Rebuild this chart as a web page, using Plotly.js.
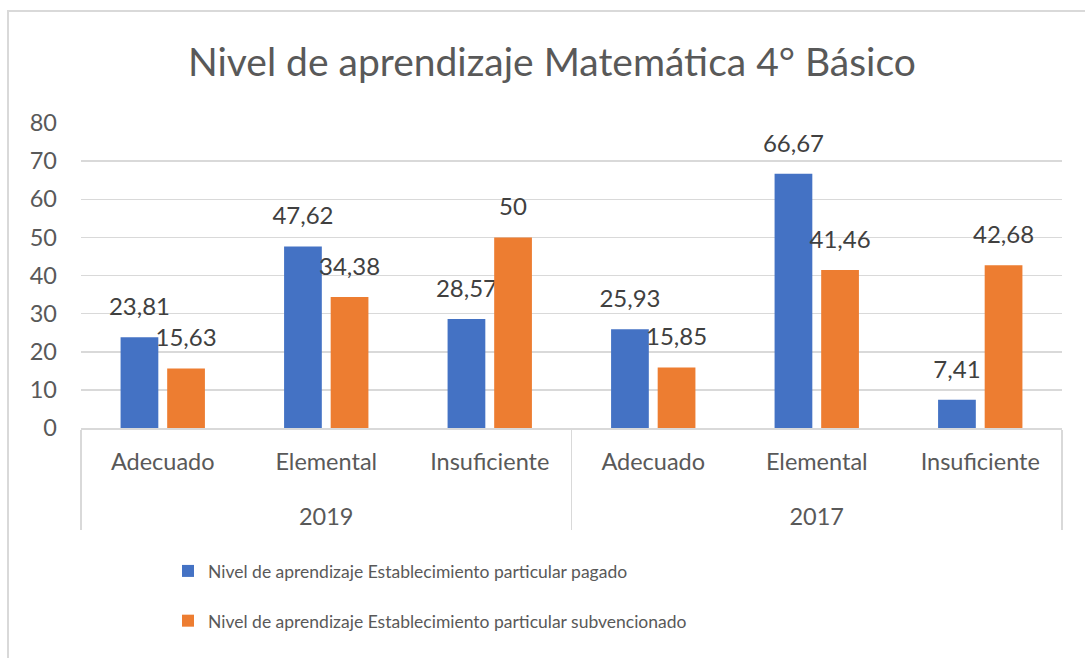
<!DOCTYPE html>
<html>
<head>
<meta charset="utf-8">
<script src="https://cdn.plot.ly/plotly-3.0.1.min.js"></script>
<style>
html,body{margin:0;padding:0;background:#fff;}
#chart{width:1085px;height:658px;}
</style>
</head>
<body>
<div id="chart"></div>
<script>
const years = ["2019","2019","2019","2017","2017","2017"];
const levels = ["Adecuado","Elemental","Insuficiente","Adecuado","Elemental","Insuficiente"];
const pagado = [23.81, 47.62, 28.57, 25.93, 66.67, 7.41];
const subvencionado = [15.63, 34.38, 50, 15.85, 41.46, 42.68];
const seriesNames = ["Nivel de aprendizaje Establecimiento particular pagado",
                     "Nivel de aprendizaje Establecimiento particular subvencionado"];
const yTicks = [0,10,20,30,40,50,60,70,80];

const fmt = v => "<span style='font-size:24px'>" + String(v).replace('.', ',') +
                 "</span><br><span style='font-size:4px'> </span>";
const FONT = "Lato, 'Open Sans', sans-serif";
const lbl = s => "<span style='font-size:23.5px'>" + s + "</span>";
const xCats = [years.map(y => "<br>" + lbl(y)), levels.map(lbl)];

const traces = [
  {type:'bar', name:seriesNames[0], x:xCats, y:pagado,
   marker:{color:'#4472C4'}, text:pagado.map(fmt), textposition:'outside', constraintext:'none',
   textfont:{color:'#404040', size:14, family:FONT}, cliponaxis:false,
   legendgroup:'a', hoverinfo:'y'},
  {type:'bar', name:seriesNames[1], x:xCats, y:subvencionado,
   marker:{color:'#ED7D31'}, text:subvencionado.map(fmt), textposition:'outside', constraintext:'none',
   textfont:{color:'#404040', size:14, family:FONT}, cliponaxis:false,
   legendgroup:'b', hoverinfo:'y'}
];

const layout = {
  width:1085, height:658,
  margin:{l:81, r:23, t:123, b:230},
  paper_bgcolor:'#fff', plot_bgcolor:'#fff',
  font:{family:FONT, color:'#595959', size:20},
  title:{text:'Nivel de aprendizaje Matemática 4° Básico', x:0.48, xref:'paper', xanchor:'center',
         y:0.905, yanchor:'middle', font:{size:39, color:'#595959', family:FONT}},
  bargap:0.43, bargroupgap:0.19, barmode:'group',
  xaxis:{type:'multicategory', showline:true, linecolor:'#d9d9d9', linewidth:1.5,
         showdividers:true, dividercolor:'#d9d9d9', dividerwidth:1.5,
         tickfont:{size:26, color:'#595959'}, ticks:'', showgrid:false, ticklabelstandoff:9},
  yaxis:{range:[0,80], tickvals:yTicks, showgrid:true, gridcolor:'#d9d9d9', gridwidth:1.5,
         zeroline:false, showline:false, ticks:'', tickfont:{size:23.5, color:'#595959'}, ticklabelstandoff:23},
  showlegend:true,
  legend:{orientation:'v', x:0.0887, xanchor:'left', y:-0.41, yanchor:'top',
          font:{size:17.5, color:'#595959'}, tracegroupgap:24, itemwidth:30},
  shapes:[{type:'rect', xref:'paper', yref:'paper', x0:-0.0744, x1:1.1, y0:-0.9, y1:1.367,
           line:{color:'#d9d9d9', width:2}, fillcolor:'rgba(0,0,0,0)'}]
};

Plotly.newPlot('chart', traces, layout, {displayModeBar:false, staticPlot:true});
</script>
</body>
</html>
